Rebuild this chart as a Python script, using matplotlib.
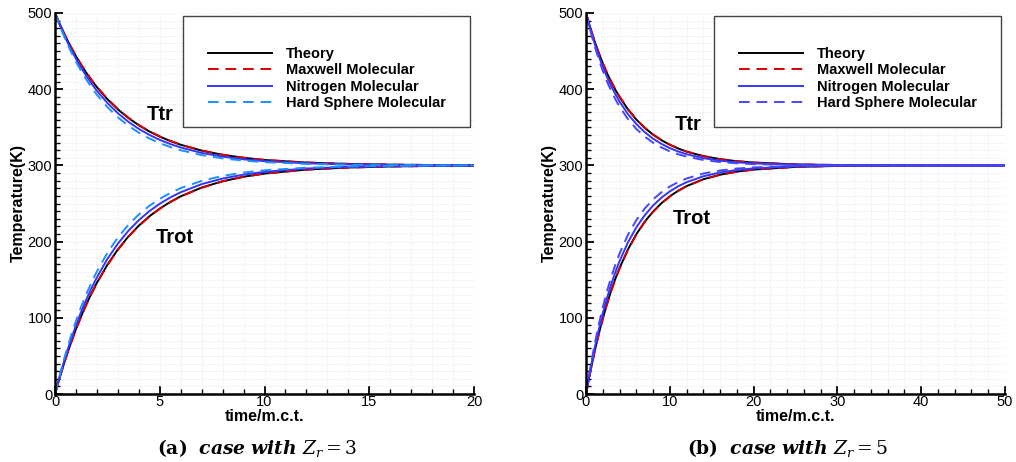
import matplotlib as mpl
mpl.use('Agg')
import numpy as np
import matplotlib.pyplot as plt
from matplotlib.patches import Rectangle
from matplotlib.ticker import MultipleLocator

plt.rcParams['font.family'] = ['Liberation Sans', 'DejaVu Sans']
plt.rcParams['mathtext.fontset'] = 'dejavuserif'

#--- case a : Zr = 3 ---#
t_a = [0, 0.25, 0.5, 0.75, 1, 1.25, 1.5, 1.75, 2, 2.5, 3, 3.5, 4, 4.5, 5, 5.5, 6, 7, 8, 9, 10, 12, 14, 16, 18, 20]
ttr_theory_a = [500, 484.0, 469.3, 455.8, 443.3, 431.8, 421.3, 411.6, 402.7, 386.9, 373.6, 362.3, 352.7, 344.6, 337.8, 332.0, 327.1, 319.4, 313.9, 310.0, 307.1, 303.7, 301.9, 301.0, 300.5, 300.3]
trot_theory_a = [0, 24.0, 46.1, 66.4, 85.1, 102.2, 118.1, 132.6, 146.0, 169.6, 189.6, 206.6, 220.9, 233.1, 243.3, 252.0, 259.4, 270.9, 279.2, 285.1, 289.3, 294.5, 297.2, 298.6, 299.3, 299.6]
ttr_maxwell_a = [500, 484.2, 469.6, 456.2, 443.8, 432.3, 421.8, 412.1, 403.2, 387.4, 374.0, 362.7, 353.0, 344.9, 338.0, 332.2, 327.2, 319.5, 314.0, 310.1, 307.2, 303.8, 302.0, 301.0, 300.5, 300.3]
trot_maxwell_a = [0, 23.8, 45.7, 65.9, 84.6, 101.7, 117.5, 132.0, 145.5, 169.1, 189.2, 206.2, 220.6, 232.8, 243.0, 251.8, 259.2, 270.7, 279.0, 285.0, 289.2, 294.4, 297.1, 298.5, 299.3, 299.6]
ttr_nitrogen_a = [500, 482.9, 467.3, 453.0, 439.9, 428.0, 417.1, 407.1, 397.9, 381.9, 368.5, 357.3, 347.9, 340.1, 333.5, 328.1, 323.5, 316.4, 311.5, 308.0, 305.6, 302.8, 301.3, 300.7, 300.3, 300.2]
trot_nitrogen_a = [0, 25.6, 49.1, 70.5, 90.1, 108.0, 124.4, 139.4, 153.1, 177.2, 197.3, 214.1, 228.1, 239.9, 249.7, 257.9, 264.8, 275.4, 282.8, 287.9, 291.6, 295.9, 298.0, 299.0, 299.5, 299.8]
ttr_hard_a = [500, 481.7, 465.0, 449.9, 436.1, 423.7, 412.3, 402.0, 392.7, 376.5, 363.1, 352.1, 342.9, 335.4, 329.2, 324.1, 319.9, 313.5, 309.2, 306.3, 304.3, 302.0, 300.9, 300.4, 300.2, 300.1]
trot_hard_a = [0, 27.5, 52.5, 75.2, 95.8, 114.5, 131.5, 146.9, 160.9, 185.3, 205.4, 221.9, 235.6, 246.9, 256.1, 263.8, 270.2, 279.7, 286.2, 290.6, 293.6, 297.0, 298.6, 299.4, 299.7, 299.9]

#--- case b : Zr = 5 ---#
t_b = [0, 0.5, 1, 1.5, 2, 2.5, 3, 3.5, 4, 5, 6, 7, 8, 9, 10, 11, 12, 14, 16, 18, 20, 25, 30, 35, 40, 45, 50]
ttr_theory_b = [500, 481.0, 463.7, 448.2, 434.1, 421.3, 409.8, 399.3, 389.9, 373.6, 360.2, 349.3, 340.4, 333.1, 327.1, 322.2, 318.1, 312.2, 308.2, 305.5, 303.7, 301.3, 300.5, 300.2, 300.1, 300.0, 300.0]
trot_theory_b = [0, 28.6, 54.4, 77.8, 98.9, 118.1, 135.4, 151.0, 165.2, 189.6, 209.6, 226.0, 239.4, 250.4, 259.4, 266.8, 272.8, 281.8, 287.8, 291.8, 294.5, 298.0, 299.3, 299.7, 299.9, 300.0, 300.0]
ttr_maxwell_b = [500, 481.2, 464.0, 448.5, 434.5, 421.7, 410.3, 399.8, 390.4, 374.0, 360.5, 349.6, 340.6, 333.3, 327.2, 322.3, 318.2, 312.3, 308.3, 305.5, 303.8, 301.3, 300.5, 300.2, 300.1, 300.0, 300.0]
trot_maxwell_b = [0, 28.3, 54.0, 77.3, 98.4, 117.6, 134.8, 150.5, 164.6, 189.0, 209.1, 225.6, 239.0, 250.1, 259.1, 266.6, 272.6, 281.7, 287.7, 291.7, 294.4, 298.0, 299.3, 299.7, 299.9, 300.0, 300.0]
ttr_nitrogen_b = [500, 479.4, 460.9, 444.3, 429.5, 416.1, 404.2, 393.5, 383.8, 367.4, 354.3, 343.7, 335.1, 328.3, 322.7, 318.3, 314.7, 309.5, 306.2, 304.0, 302.6, 300.9, 300.3, 300.1, 300.0, 300.0, 300.0]
trot_nitrogen_b = [0, 30.9, 58.6, 83.5, 105.8, 125.8, 143.7, 159.8, 174.3, 198.8, 218.6, 234.5, 247.3, 257.6, 265.9, 272.6, 277.9, 285.7, 290.7, 294.0, 296.1, 298.7, 299.6, 299.9, 299.9, 300.0, 300.0]
ttr_hard_b = [500, 477.6, 457.6, 439.9, 424.2, 410.3, 397.9, 386.9, 377.2, 360.8, 347.9, 337.8, 329.8, 323.5, 318.5, 314.6, 311.5, 307.1, 304.4, 302.8, 301.7, 300.5, 300.2, 300.0, 300.0, 300.0, 300.0]
trot_hard_b = [0, 33.7, 63.6, 90.1, 113.7, 134.6, 153.2, 169.6, 184.3, 208.8, 228.1, 243.3, 255.3, 264.8, 272.3, 278.1, 282.8, 289.3, 293.3, 295.9, 297.4, 299.2, 299.8, 299.9, 300.0, 300.0, 300.0]

labels = ['Theory', 'Maxwell Molecular', 'Nitrogen Molecular', 'Hard Sphere Molecular']
captions = [r'$\mathbf{(a)}\ \ \mathbfit{case\ with}\ Z_r = 3$',
            r'$\mathbf{(b)}\ \ \mathbfit{case\ with}\ Z_r = 5$']

fig = plt.figure(figsize=(10.16, 4.62), dpi=100)
W, H = 1016., 462.
ax1 = fig.add_axes([55/W, 1-394/H, 419/W, 381/H])
ax2 = fig.add_axes([586/W, 1-394/H, 419/W, 381/H])

dash = (0, (5.5, 3.5))
for ax, t, data, hscol, xmax, xmaj, xmin, txt in [
        (ax1, t_a, [(ttr_theory_a, trot_theory_a), (ttr_maxwell_a, trot_maxwell_a),
                    (ttr_nitrogen_a, trot_nitrogen_a), (ttr_hard_a, trot_hard_a)],
         '#1e8fff', 20, 5, 1, [(5.0, 367, 5.7, 206)]),
        (ax2, t_b, [(ttr_theory_b, trot_theory_b), (ttr_maxwell_b, trot_maxwell_b),
                    (ttr_nitrogen_b, trot_nitrogen_b), (ttr_hard_b, trot_hard_b)],
         '#4646ff', 50, 10, 2, [(12.2, 354, 12.6, 230)])]:
    styles = [dict(color='k', ls='-'), dict(color='#d40000', ls=dash),
              dict(color='#3434ff', ls='-'), dict(color=hscol, ls=dash)]
    handles = []
    for (ttr, trot), st, lab in zip(data, styles, labels):
        h, = ax.plot(t, ttr, lw=1.4, label=lab, **st)
        ax.plot(t, trot, lw=1.4, **st)
        handles.append(h)

    ax.set_xlim(0, xmax)
    ax.set_ylim(0, 500)
    ax.xaxis.set_major_locator(MultipleLocator(xmaj))
    ax.xaxis.set_minor_locator(MultipleLocator(xmin))
    ax.yaxis.set_major_locator(MultipleLocator(100))
    ax.yaxis.set_minor_locator(MultipleLocator(10))
    ax.tick_params(which='both', direction='in', labelsize=10.5, pad=2)
    ax.tick_params(axis='x', which='both', pad=1)
    ax.tick_params(which='major', length=6, width=1.3)
    ax.tick_params(which='minor', length=3.5, width=1.0)
    ax.spines['top'].set_visible(False)
    ax.spines['right'].set_visible(False)
    ax.spines['left'].set_linewidth(1.8)
    ax.spines['bottom'].set_linewidth(1.8)
    ax.grid(which='both', color='#dddddd', ls=':', lw=0.5)
    ax.set_axisbelow(True)

    ax.set_xlabel('time/m.c.t.', fontsize=11.5, fontweight='bold', labelpad=0)
    ax.set_ylabel('Temperature(K)', fontsize=11.5, fontweight='bold', labelpad=1)

    for x1, y1, x2, y2 in txt:
        ax.text(x1, y1, 'Ttr', fontsize=14.5, fontweight='bold', ha='center', va='center')
        ax.text(x2, y2, 'Trot', fontsize=14.5, fontweight='bold', ha='center', va='center')

    #--- legend box ---#
    ax.add_patch(Rectangle((0.305, 0.701), 0.685, 0.291, transform=ax.transAxes,
                           fill=True, facecolor='white', edgecolor='#444444',
                           lw=1.0, zorder=5))
    leg = ax.legend(handles=handles, loc='upper left', bbox_to_anchor=(0.364, 0.91),
                    frameon=False, prop=dict(size=10.5, weight='bold'),
                    handlelength=4.4, handletextpad=0.95, labelspacing=0.15,
                    borderaxespad=0, borderpad=0)
    leg.set_zorder(6)

fig.text(257/W, 1-448/H, captions[0], fontsize=13.5, ha='center', va='center')
fig.text(788/W, 1-448/H, captions[1], fontsize=13.5, ha='center', va='center')

fig.savefig('out.png', dpi=100)
